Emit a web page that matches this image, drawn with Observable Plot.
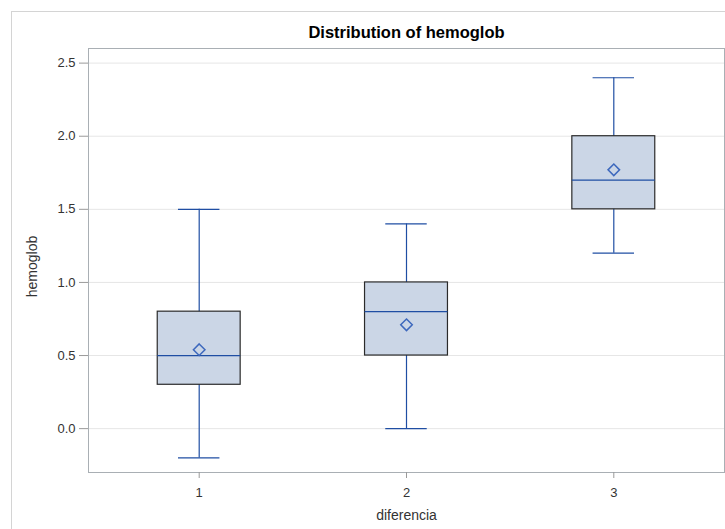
<!DOCTYPE html>
<html>
<head>
<meta charset="utf-8">
<script src="https://cdn.jsdelivr.net/npm/d3@7"></script>
<script src="https://cdn.jsdelivr.net/npm/@observablehq/plot@0.6"></script>
<style>
  html, body { margin: 0; padding: 0; background: #fff; }
  #wrap { position: relative; width: 725px; height: 529px; overflow: hidden; }
  #border { position: absolute; left: 11px; top: 11px; right: -5px; bottom: -5px;
            border-left: 1px solid #d4d4d4; border-top: 1px solid #d4d4d4; pointer-events: none; }
</style>
</head>
<body>
<div id="wrap"><div id="border"></div></div>
<script>
// Data
const groups    = [1, 2, 3];
const whiskLow  = [-0.2, 0.0, 1.2];
const q1        = [0.3, 0.5, 1.5];
const median    = [0.5, 0.8, 1.7];
const q3        = [0.8, 1.0, 2.0];
const whiskHigh = [1.5, 1.4, 2.4];
const means     = [0.54, 0.71, 1.77];
const yTicks    = [0.0, 0.5, 1.0, 1.5, 2.0, 2.5];
const xTicks    = [1, 2, 3];
const title     = "Distribution of hemoglob";
const xLabel    = "diferencia";
const yLabel    = "hemoglob";

const data = groups.map((g, i) => ({
  g, lo: whiskLow[i], q1: q1[i], med: median[i], q3: q3[i], hi: whiskHigh[i], mean: means[i]
}));

const boxHalf = 0.2, capHalf = 0.1;
const blue = "#1f4ea3";
const font = "'Liberation Sans', Arial, sans-serif";

const chart = Plot.plot({
  width: 725,
  height: 529,
  marginLeft: 88,
  marginRight: 1,
  marginTop: 48,
  marginBottom: 57,
  style: { fontFamily: font, fontSize: "13px", color: "#333", background: "transparent" },
  x: { domain: [0.466, 3.534], ticks: xTicks },
  y: { domain: [-0.3, 2.6], ticks: yTicks },
  marks: [
    Plot.gridY(yTicks, { stroke: "#e6e6e6", strokeOpacity: 1 }),
    Plot.ruleX(data, { x: "g", y1: "lo", y2: "hi", stroke: blue, strokeWidth: 1.2 }),
    Plot.ruleY(data, { y: "lo", x1: d => d.g - capHalf, x2: d => d.g + capHalf, stroke: blue, strokeWidth: 1.2 }),
    Plot.ruleY(data, { y: "hi", x1: d => d.g - capHalf, x2: d => d.g + capHalf, stroke: blue, strokeWidth: 1.2 }),
    Plot.rect(data, { x1: d => d.g - boxHalf, x2: d => d.g + boxHalf, y1: "q1", y2: "q3",
                      fill: "#cbd6e6", stroke: "#2b2b2b", strokeWidth: 1.2 }),
    Plot.ruleY(data, { y: "med", x1: d => d.g - boxHalf, x2: d => d.g + boxHalf, stroke: blue, strokeWidth: 1.2 }),
    Plot.dot(data, { x: "g", y: "mean", symbol: "diamond2", r: 5.2, stroke: "#3d68bd", strokeWidth: 1.5, fill: "none" }),
    Plot.frame({ stroke: "#a9afb4" }),
    Plot.axisY({ ticks: yTicks, tickFormat: d3.format(".1f"), tickSize: 9, tickPadding: 4,
                 label: null, stroke: "#9a9a9a", fill: "#333", fontSize: 13 }),
    Plot.axisX({ ticks: xTicks, tickFormat: d3.format("d"), tickSize: 6, tickPadding: 9,
                 label: null, stroke: "#9a9a9a", fill: "#333", fontSize: 13 }),
    Plot.text([title], { frameAnchor: "top", dy: -15.5, lineAnchor: "middle",
                         fontWeight: "bold", fontSize: 16.5, fill: "#000" }),
    Plot.text([xLabel], { frameAnchor: "bottom", dy: 43, lineAnchor: "middle", fontSize: 14, fill: "#333" }),
    Plot.text([yLabel], { frameAnchor: "left", dx: -56, dy: 6, rotate: -90, textAnchor: "middle",
                          lineAnchor: "middle", fontSize: 14, fill: "#333" })
  ]
});
document.getElementById("wrap").insertBefore(chart, document.getElementById("border"));
</script>
</body>
</html>
